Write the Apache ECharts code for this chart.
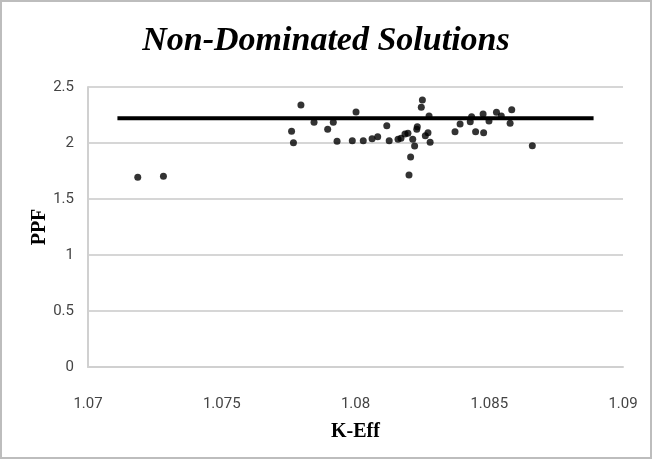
<!DOCTYPE html>
<html>
<head>
<meta charset="utf-8">
<script src="https://cdn.jsdelivr.net/npm/echarts@6/dist/echarts.min.js"></script>
<style>
html,body{margin:0;padding:0;background:#fff;}
#c{width:652px;height:459px;}
</style>
</head>
<body>
<div id="c"></div>
<script>
var kEff = [1.07186,1.07282,1.07796,1.07845,1.07761,1.07768,1.07896,1.07917,1.07931,1.08002,1.07988,1.08029,
  1.08062,1.08083,1.08117,1.08126,1.08159,1.0817,1.08185,1.08196,1.08214,1.08221,1.08206,1.082,
  1.08229,1.08231,1.0825,1.08246,1.08275,1.08261,1.08271,1.08279,1.08372,1.08391,1.08429,1.08434,
  1.08449,1.08479,1.08477,1.08499,1.08527,1.08545,1.08578,1.08584,1.08661];
var ppf = [1.694,1.703,2.339,2.185,2.104,2.003,2.122,2.185,2.015,2.277,2.021,2.021,
  2.038,2.056,2.155,2.021,2.033,2.042,2.080,2.086,2.033,1.973,1.875,1.714,
  2.122,2.146,2.384,2.319,2.241,2.065,2.092,2.006,2.101,2.170,2.190,2.235,
  2.101,2.092,2.259,2.196,2.274,2.241,2.176,2.297,1.976];
var refLineX = [1.0711, 1.0889];
var refLineY = [2.222, 2.222];
var xTicks = [1.07, 1.075, 1.08, 1.085, 1.09];
var yTicks = [0, 0.5, 1, 1.5, 2, 2.5];

var pts = kEff.map(function(x,i){return [x, ppf[i]];});
var line = refLineX.map(function(x,i){return [x, refLineY[i]];});

var chart = echarts.init(document.getElementById('c'), null, {renderer:'canvas'});
chart.setOption({
  animation:false,
  backgroundColor:'#fff',
  graphic:[{type:'rect',shape:{x:1,y:1,width:650,height:457},style:{fill:'none',stroke:'#bdbdbd',lineWidth:2},silent:true}],
  title:{text:'Non-Dominated Solutions',left:'center',top:19,
    textStyle:{fontFamily:'Liberation Serif',fontStyle:'italic',fontWeight:'bold',fontSize:34,color:'#000'}},
  grid:{left:88,right:29,top:87,bottom:92},
  xAxis:{type:'value',min:xTicks[0],max:xTicks[xTicks.length-1],interval:0.005,
    name:'K-Eff',nameLocation:'middle',nameGap:55,nameMoveOverlap:false,
    nameTextStyle:{fontFamily:'Liberation Serif',fontWeight:'bold',fontSize:20,color:'#000'},
    axisLine:{show:true,lineStyle:{color:'#d0d0d0',width:2}},
    axisTick:{show:false},
    splitLine:{show:false},
    axisLabel:{margin:30,fontFamily:'Liberation Sans Narrow, Roboto',fontSize:15,color:'#444',
      formatter:function(v){return String(+v.toFixed(3));}}
  },
  yAxis:{type:'value',min:0,max:2.5,interval:0.5,
    name:'PPF',nameLocation:'middle',nameGap:38,nameMoveOverlap:false,
    nameTextStyle:{fontFamily:'Liberation Serif',fontWeight:'bold',fontSize:20,color:'#000'},
    axisLine:{show:true,lineStyle:{color:'#d0d0d0',width:2}},
    axisTick:{show:false},
    splitLine:{show:true,lineStyle:{color:'#d6d6d6',width:2}},
    axisLabel:{margin:14,fontFamily:'Liberation Sans Narrow, Roboto',fontSize:15,color:'#444',
      formatter:function(v){return String(v);}}
  },
  series:[
    {type:'line',data:line,symbol:'none',lineStyle:{color:'#000',width:4},z:2},
    {type:'scatter',data:pts,symbol:'circle',symbolSize:7,itemStyle:{color:'#000'},z:3}
  ]
});
</script>
</body>
</html>
